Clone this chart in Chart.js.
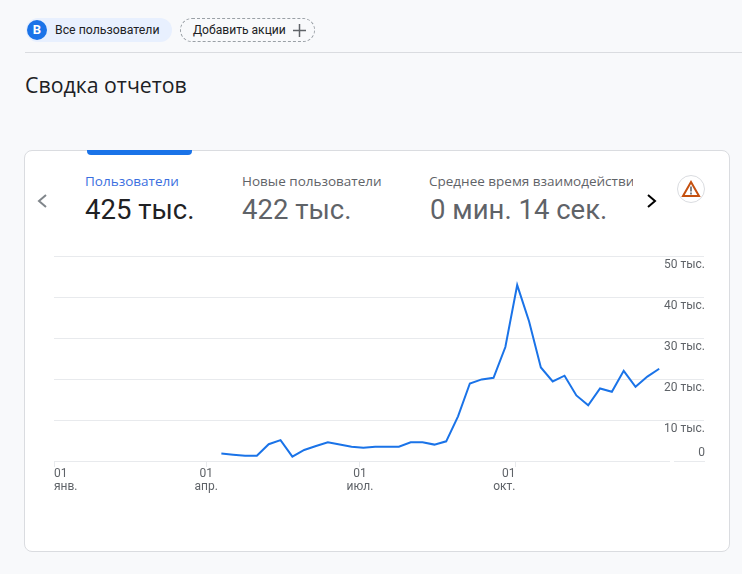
<!DOCTYPE html>
<html lang="ru">
<head>
<meta charset="utf-8">
<script src="https://cdn.jsdelivr.net/npm/chart.js@4"></script>
<style>
  html, body { margin: 0; padding: 0; }
  body { width: 742px; height: 574px; background: #f8f9fb; font-family: Roboto, sans-serif; position: relative; overflow: hidden; color: #202124; }
  .abs { position: absolute; white-space: nowrap; }
  .chip { top: 18px; height: 24px; line-height: 24px; font-size: 12px; box-sizing: border-box; border-radius: 12px; }
  .card { left: 24px; top: 150px; width: 706px; height: 402px; box-sizing: border-box; background: #fff; border: 1px solid #dadce0; border-radius: 8px; }
  .tab-label { top: 172px; font-size: 13.5px; line-height: 18px; color: #5f6368; font-family: "Open Sans", sans-serif; }
  .tab-value { top: 192px; font-size: 27.5px; line-height: 36px; color: #5f6368; }
  canvas { position: absolute; left: 0; top: 0; }
</style>
</head>
<body>
<div class="abs chip" style="left:26px;width:146px;background:#e8f0fe;"></div>
<div class="abs" style="left:27px;top:20px;width:20px;height:20px;border-radius:50%;background:#1a73e8;color:#fff;font:bold 13px/20px Roboto;text-align:center;">B</div>
<div class="abs chip" style="left:55px;font-size:12.3px;">Все пользователи</div>
<div class="abs chip" style="left:180px;width:135px;border:1px dashed #9aa0a6;line-height:22px;padding-left:12px;font-size:12.1px;">Добавить акции</div>
<svg class="abs" style="left:293px;top:24px;" width="13" height="13"><path d="M6.5 0v13M0 6.5h13" stroke="#5f6368" stroke-width="1.5"/></svg>
<div class="abs" style="left:25px;right:0;top:52px;height:1px;background:#dadce0;"></div>
<div class="abs" style="left:25px;top:70px;font:21.3px/30px 'Open Sans',sans-serif;color:#202124;">Сводка отчетов</div>

<div class="abs card"></div>
<div class="abs" style="left:87px;top:150px;width:105px;height:5px;background:#1a73e8;border-radius:0 0 4px 4px;"></div>
<svg class="abs" style="left:36px;top:193px;" width="12" height="16"><path d="M10 2 3 8l7 6" fill="none" stroke="#80868b" stroke-width="2"/></svg>
<div class="abs tab-label" style="left:85px;color:#3b6fe0;">Пользователи</div>
<div class="abs tab-value" style="left:85px;color:#202124;">425 тыс.</div>
<div class="abs tab-label" style="left:242px;">Новые пользователи</div>
<div class="abs tab-value" style="left:242px;">422 тыс.</div>
<div class="abs tab-label" style="left:429px;width:204px;overflow:hidden;">Среднее время взаимодействия</div>
<div class="abs tab-value" style="left:430px;">0 мин. 14 сек.</div>
<svg class="abs" style="left:646px;top:193px;" width="12" height="16"><path d="M2 2l7 6-7 6" fill="none" stroke="#000" stroke-width="2"/></svg>
<svg class="abs" style="left:677px;top:175px;" width="28" height="28">
  <circle cx="14" cy="14" r="13.5" fill="#fff" stroke="#dadce0"/>
  <path d="M14 7 22 21H6Z" fill="none" stroke="#c5500f" stroke-width="2"/>
  <path d="M14 11.5v5M14 17.500v2" stroke="#5f6368" stroke-width="1.6"/>
</svg>

<canvas id="chart" width="742" height="574"></canvas>
<div class="abs" style="left:670px;top:460px;width:4px;height:3px;background:#fff;"></div>

<script>
const dayOfYear = [99, 106, 113, 120, 127, 134, 141, 148, 155, 162, 169, 176, 183, 190, 197, 204, 211, 218, 225, 232,
  239, 246, 253, 260, 267, 274, 281, 288, 295, 302, 309, 316, 323, 330, 337, 344, 351, 358];
const users = [1800, 1550, 1300, 1300, 4100, 5100, 1050, 2700, 3650, 4550, 4000, 3500, 3250, 3500, 3500, 3500, 4550, 4550, 4000, 4800,
  10900, 18900, 19900, 20300, 27800, 42900, 34100, 22800, 19400, 20800, 16000, 13600, 17700, 16900, 22000, 18100, 20600, 22500];
const monthTicks = [0, 90, 181, 273];
const monthLabels = ['янв.', 'апр.', 'июл.', 'окт.'];
const yTicks = [0, 10000, 20000, 30000, 40000, 50000];

const gridColor = '#e8eaed';
const tickColor = '#5f6368';
const tickFont = { family: 'Roboto', size: 12, lineHeight: 1.08 };

new Chart(document.getElementById('chart'), {
  type: 'line',
  data: {
    datasets: [{
      data: dayOfYear.map((d, i) => ({ x: d, y: users[i] })),
      borderColor: '#1a73e8',
      borderWidth: 2,
      pointRadius: 0,
      tension: 0,
    }],
  },
  options: {
    responsive: false,
    animation: false,
    layout: { padding: { left: 54, right: 38, top: 256, bottom: 73 } },
    plugins: { legend: { display: false }, tooltip: { enabled: false } },
    scales: {
      x: {
        type: 'linear',
        min: 0,
        max: 384.5,
        afterBuildTicks: s => { s.ticks = monthTicks.map(value => ({ value })); },
        afterFit: s => { s.height = 40; },
        grid: { drawOnChartArea: false, color: gridColor, tickLength: 6 },
        border: { color: gridColor },
        ticks: {
          align: 'inner',
          maxRotation: 0,
          autoSkip: false,
          padding: 1,
          color: tickColor,
          font: tickFont,
          callback: v => ['01', monthLabels[monthTicks.indexOf(v)]],
        },
      },
      y: {
        position: 'right',
        min: 0,
        max: 50000,
        afterBuildTicks: s => { s.ticks = yTicks.map(value => ({ value })); },
        afterFit: s => { s.width = 0; },
        grid: { color: gridColor, drawTicks: false },
        border: { display: false },
        ticks: {
          mirror: true,
          padding: 1,
          labelOffset: 9,
          color: tickColor,
          font: tickFont,
          callback: v => (v === 0 ? '' : `${v / 1000} тыс.`),
        },
      },
      // подпись нуля стоит выше линии, остальные ниже
      yZero: {
        position: 'right',
        min: 0,
        max: 50000,
        afterBuildTicks: s => { s.ticks = [{ value: 0 }]; },
        afterFit: s => { s.width = 0; },
        grid: { display: false },
        border: { display: false },
        ticks: { mirror: true, padding: 1, labelOffset: -8, color: tickColor, font: tickFont, callback: () => '0' },
      },
    },
  },
});
</script>
</body>
</html>
